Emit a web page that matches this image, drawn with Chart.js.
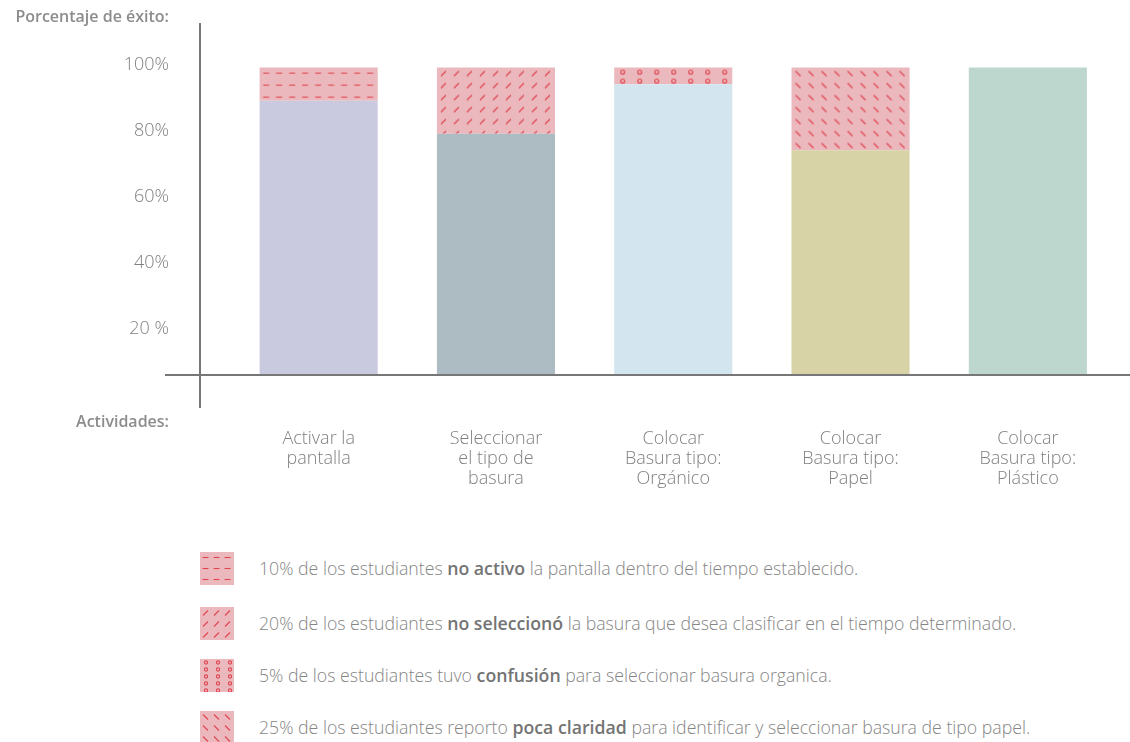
<!DOCTYPE html>
<html lang="es">
<head>
<meta charset="utf-8">
<script src="https://cdn.jsdelivr.net/npm/chart.js@4"></script>
<style>
  html, body { margin: 0; padding: 0; background: #fff; }
  body { width: 1130px; height: 742px; position: relative; overflow: hidden; font-family: "Open Sans", sans-serif; color: #808080; }
  #chartBox { position: absolute; left: 0; top: 0; width: 1130px; height: 500px; }
  .axis-title { position: absolute; font-weight: 600; font-size: 16px; color: #8c8c8c; text-align: right; width: 200px; }
  .legend-row { position: absolute; left: 200px; height: 33px; display: flex; align-items: center; }
  .legend-row canvas { width: 34px; height: 33px; display: block; }
  .legend-row span.txt { margin-left: 25px; font-size: 17.7px; font-weight: 300; white-space: nowrap; color: #858585; position: relative; top: -1px; }
  .legend-row b { color: #747474; font-weight: 600; }
</style>
</head>
<body>
<div id="chartBox"><canvas id="chart"></canvas></div>
<div class="axis-title" style="left:-31px; top:5px;">Porcentaje de éxito:</div>
<div class="axis-title" style="left:-31px; top:410px;">Actividades:</div>
<div id="legend"></div>

<script>
// actividades y resultados (%)
const categories = [
  ["Activar la", "pantalla"],
  ["Seleccionar", "el tipo de", "basura"],
  ["Colocar", "Basura tipo:", "Orgánico"],
  ["Colocar", "Basura tipo:", "Papel"],
  ["Colocar", "Basura tipo:", "Plástico"]
];
const successValues = [90, 80, 95, 75, 100];
const failValues = [10, 20, 5, 25, 0];
const yTicks = [20, 40, 60, 80, 100];
const yTickLabels = ["20 %", "40%", "60%", "80%", "100%"];

const barColors = ["#c9cadf", "#adbcc2", "#d3e6ef", "#d8d3a7", "#bdd7cf"];
const PINK = "#ebb9bd";
const RED = "#e2434f";
const FONT = "Open Sans";

const failKinds = ["dash", "slash", "ring", "backslash", null];
const legendItems = [
  { kind: "dash", pre: "10% de los estudiantes ", bold: "no activo", post: " la pantalla dentro del tiempo establecido." },
  { kind: "slash", pre: "20% de los estudiantes ", bold: "no seleccionó", post: " la basura que desea clasificar en el tiempo determinado." },
  { kind: "ring", pre: "5% de los estudiantes tuvo ", bold: "confusión", post: " para seleccionar basura organica." },
  { kind: "backslash", pre: "25% de los estudiantes reporto ", bold: "poca claridad", post: " para identificar y seleccionar basura de tipo papel." }
];

// dibuja una celda del patrón rosado con marcas rojas
function makePattern(kind, small) {
  const tiles = {
    dash: small ? [11, 11] : [13, 12],
    slash: small ? [11, 11] : [13, 12],
    backslash: small ? [11, 11] : [13, 12],
    ring: small ? [12, 7] : [17, 9]
  };
  const [tw, th] = tiles[kind];
  const c = document.createElement("canvas");
  c.width = tw; c.height = th;
  const g = c.getContext("2d");
  g.fillStyle = PINK;
  g.fillRect(0, 0, tw, th);
  g.strokeStyle = RED;
  g.lineWidth = 1.1;
  g.beginPath();
  if (kind === "dash") {
    g.moveTo(tw / 2 - 3, 5.5); g.lineTo(tw / 2 + 3, 5.5);
  } else if (kind === "slash") {
    g.moveTo(tw / 2 - 2.5, 8.5); g.lineTo(tw / 2 + 2.5, 3.5);
  } else if (kind === "backslash") {
    g.moveTo(tw / 2 - 2.5, 3.5); g.lineTo(tw / 2 + 2.5, 8.5);
  } else if (kind === "ring") {
    g.arc(tw / 2, th / 2, small ? 1.6 : 2, 0, Math.PI * 2);
  }
  g.stroke();
  return g.createPattern(c, "repeat");
}

const failPatterns = failKinds.map(k => k ? makePattern(k, false) : PINK);

// líneas de los ejes que se cruzan
const axisCross = {
  id: "axisCross",
  afterDraw(chart) {
    const { ctx, chartArea } = chart;
    ctx.save();
    ctx.strokeStyle = "#777777";
    ctx.lineWidth = 2;
    ctx.beginPath();
    ctx.moveTo(chartArea.left - 30, chartArea.top);
    ctx.lineTo(chartArea.left - 30, chartArea.bottom + 33);
    ctx.moveTo(chartArea.left - 65, chartArea.bottom);
    ctx.lineTo(chart.width, chartArea.bottom);
    ctx.stroke();
    ctx.restore();
  }
};

// alinea cada patrón con la esquina de su barra
const alignPatterns = {
  id: "alignPatterns",
  beforeDatasetsDraw(chart) {
    const meta = chart.getDatasetMeta(1);
    meta.data.forEach((bar, i) => {
      const p = failPatterns[i];
      if (p && p.setTransform) {
        p.setTransform(new DOMMatrix([1, 0, 0, 1, bar.x - bar.width / 2, bar.y]));
      }
    });
  }
};

new Chart(document.getElementById("chart"), {
  type: "bar",
  data: {
    labels: categories,
    datasets: [
      { label: "Éxito", data: successValues, backgroundColor: barColors },
      { label: "Dificultad", data: failValues, backgroundColor: failPatterns }
    ]
  },
  options: {
    responsive: true,
    maintainAspectRatio: false,
    animation: false,
    layout: { padding: { top: 23, right: 13.5, left: 0, bottom: 0 } },
    datasets: { bar: { categoryPercentage: 1, barPercentage: 0.666 } },
    plugins: { legend: { display: false }, tooltip: { enabled: true } },
    scales: {
      x: {
        stacked: true,
        grid: { display: false, drawTicks: false },
        border: { display: false },
        ticks: {
          padding: 54,
          color: "#808080",
          font: { family: FONT, size: 18, weight: 300, lineHeight: "20px" },
          maxRotation: 0
        },
        afterFit(scale) { scale.height = 125; scale.paddingLeft = 0; scale.paddingRight = 0; }
      },
      y: {
        stacked: true,
        min: 7,
        max: 113.5,
        grid: { display: false, drawTicks: false },
        border: { display: false },
        afterBuildTicks(scale) { scale.ticks = yTicks.map(v => ({ value: v })); },
        ticks: {
          padding: 61,
          labelOffset: -3,
          color: "#808080",
          font: { family: FONT, size: 18, weight: 300 },
          callback: (v) => yTickLabels[yTicks.indexOf(v)]
        },
        afterFit(scale) { scale.width = 230; scale.paddingTop = 0; scale.paddingBottom = 0; }
      }
    }
  },
  plugins: [alignPatterns, axisCross]
});

// leyenda con muestras del patrón
const legendDiv = document.getElementById("legend");
const legendTops = [552, 607, 659, 711];
legendItems.forEach((item, i) => {
  const row = document.createElement("div");
  row.className = "legend-row";
  row.style.top = legendTops[i] + "px";
  const sw = document.createElement("canvas");
  sw.width = 34; sw.height = 33;
  const sg = sw.getContext("2d");
  sg.fillStyle = makePattern(item.kind, true);
  sg.fillRect(0, 0, 34, 33);
  const txt = document.createElement("span");
  txt.className = "txt";
  txt.innerHTML = `${item.pre}<b>${item.bold}</b>${item.post}`;
  row.appendChild(sw);
  row.appendChild(txt);
  legendDiv.appendChild(row);
});
</script>
</body>
</html>
